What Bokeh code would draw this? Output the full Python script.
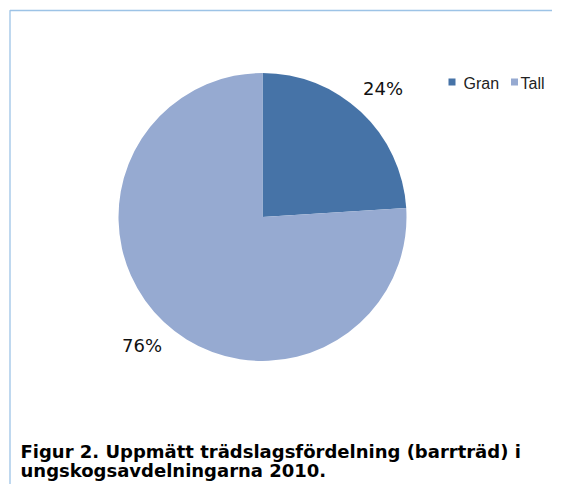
import numpy as np
from bokeh.plotting import figure
from bokeh.models import Range1d
from bokeh.core.properties import value
from bokeh.embed import file_html
from bokeh.resources import INLINE

# ---- data ----
categories = ["Gran", "Tall"]
values = [24, 76]
caption_lines = [
    "Figur 2. Uppmätt trädslagsfördelning (barrträd) i",
    "ungskogsavdelningarna 2010.",
]

# ---- styles ----
palette = ["#4673A7", "#96AAD1"]
border_color = "#9DC3E6"

W, H = 552, 484
p = figure(width=W, height=H, output_backend="svg", toolbar_location=None,
           x_range=Range1d(0, W), y_range=Range1d(0, H), min_border=0)
p.axis.visible = False
p.grid.visible = False
p.outline_line_color = None
p.background_fill_color = "white"
p.border_fill_color = "white"

# chart area border (top and left)
p.line([9.5, 9.5, W], [0, 474, 474], line_color=border_color, line_width=1.3)

# pie
cx, cy, r = 262, 267.5, 144
vals = np.array(values, dtype=float)
frac = vals / vals.sum()
cum = np.cumsum(frac)
start = np.pi / 2 - 2 * np.pi * (cum - frac)
end = np.pi / 2 - 2 * np.pi * cum
for i, c in enumerate(categories):
    p.wedge(x=cx, y=cy, radius=r, start_angle=start[i], end_angle=end[i],
            direction="clock", fill_color=palette[i], line_color=None)

# percentage labels
mid = (start + end) / 2
lr = 176
p.text(x=cx + lr * np.cos(mid), y=cy + lr * np.sin(mid),
       text=[f"{int(v)}%" for v in values],
       text_font=value("DejaVu Sans"), text_font_size="18px",
       text_color="#111111", text_align="center", text_baseline="middle")

# legend
sq_x = [451.5, 514]
tx_x = [463, 520]
for i, c in enumerate(categories):
    p.rect(x=sq_x[i], y=402.5, width=7, height=7, fill_color=palette[i], line_color=None)
    p.text(x=[tx_x[i]], y=[401], text=[c], text_font=value("Liberation Sans"),
           text_font_size="16px", text_color="#222222",
           text_align="left", text_baseline="alphabetic")

# caption
p.text(x=[20, 20], y=[33, 14], text=caption_lines,
       text_font=value("DejaVu Sans"), text_font_size="18px", text_font_style="bold",
       text_color="#000000", text_align="left", text_baseline="alphabetic")

open("out.html", "w").write(file_html(p, INLINE))
